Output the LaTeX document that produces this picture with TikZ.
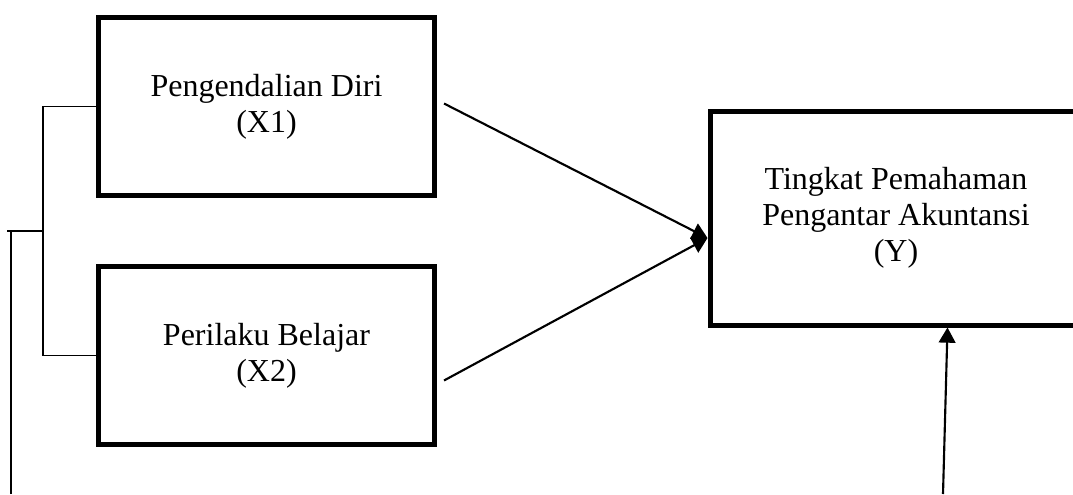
\documentclass[tikz,border=0pt]{standalone}
\usepackage{fontspec}
\setmainfont{Liberation Serif}
\usetikzlibrary{arrows.meta,positioning,calc}

\begin{document}
\begin{tikzpicture}[
  x=0.75pt,
  y=-0.75pt,
  varbox/.style={
    draw,
    line width=3.75pt,
    inner sep=0pt,
    minimum width=252pt,
    minimum height=133.5pt,
    align=center,
    font=\fontsize{24}{27}\selectfont
  },
  link/.style={line width=1.2pt},
  arrow/.style={-{Triangle[length=4mm,width=4.4mm]},line width=1.6pt}
]
  \clip (0,0) rectangle (1073,494);
  \node[varbox] (x1) at (266.5,106.5) {Pengendalian Diri\\(X1)};
  \node[varbox,below=49.5pt of x1] (x2) {Perilaku Belajar\\(X2)};
  \node[varbox,minimum width=279pt,minimum height=160.5pt] (y) at (896,218) {Tingkat Pemahaman\\Pengantar Akuntansi\\(Y)};
  % bracket on the left
  \coordinate (join) at (43,231);
  \coordinate (base) at (11,494);
  \coordinate (ybase) at (943,494);
  \draw[link] (x1.west) -| (join) |- (x2.west);
  \draw[link] (join) -- ++(-36,0);
  \draw[link] (base) -- (base |- join);
  % arrows into Y
  \coordinate (meet) at ($(y.west)+(0,20)$);
  \draw[arrow] ($(x1.east)+(7,-3)$) -- (meet);
  \draw[arrow] ($(x2.east)+(7,25)$) -- (meet);
  \draw[arrow] (ybase) -- ($(y.south west)+(240,0)$);
\end{tikzpicture}
\end{document}
